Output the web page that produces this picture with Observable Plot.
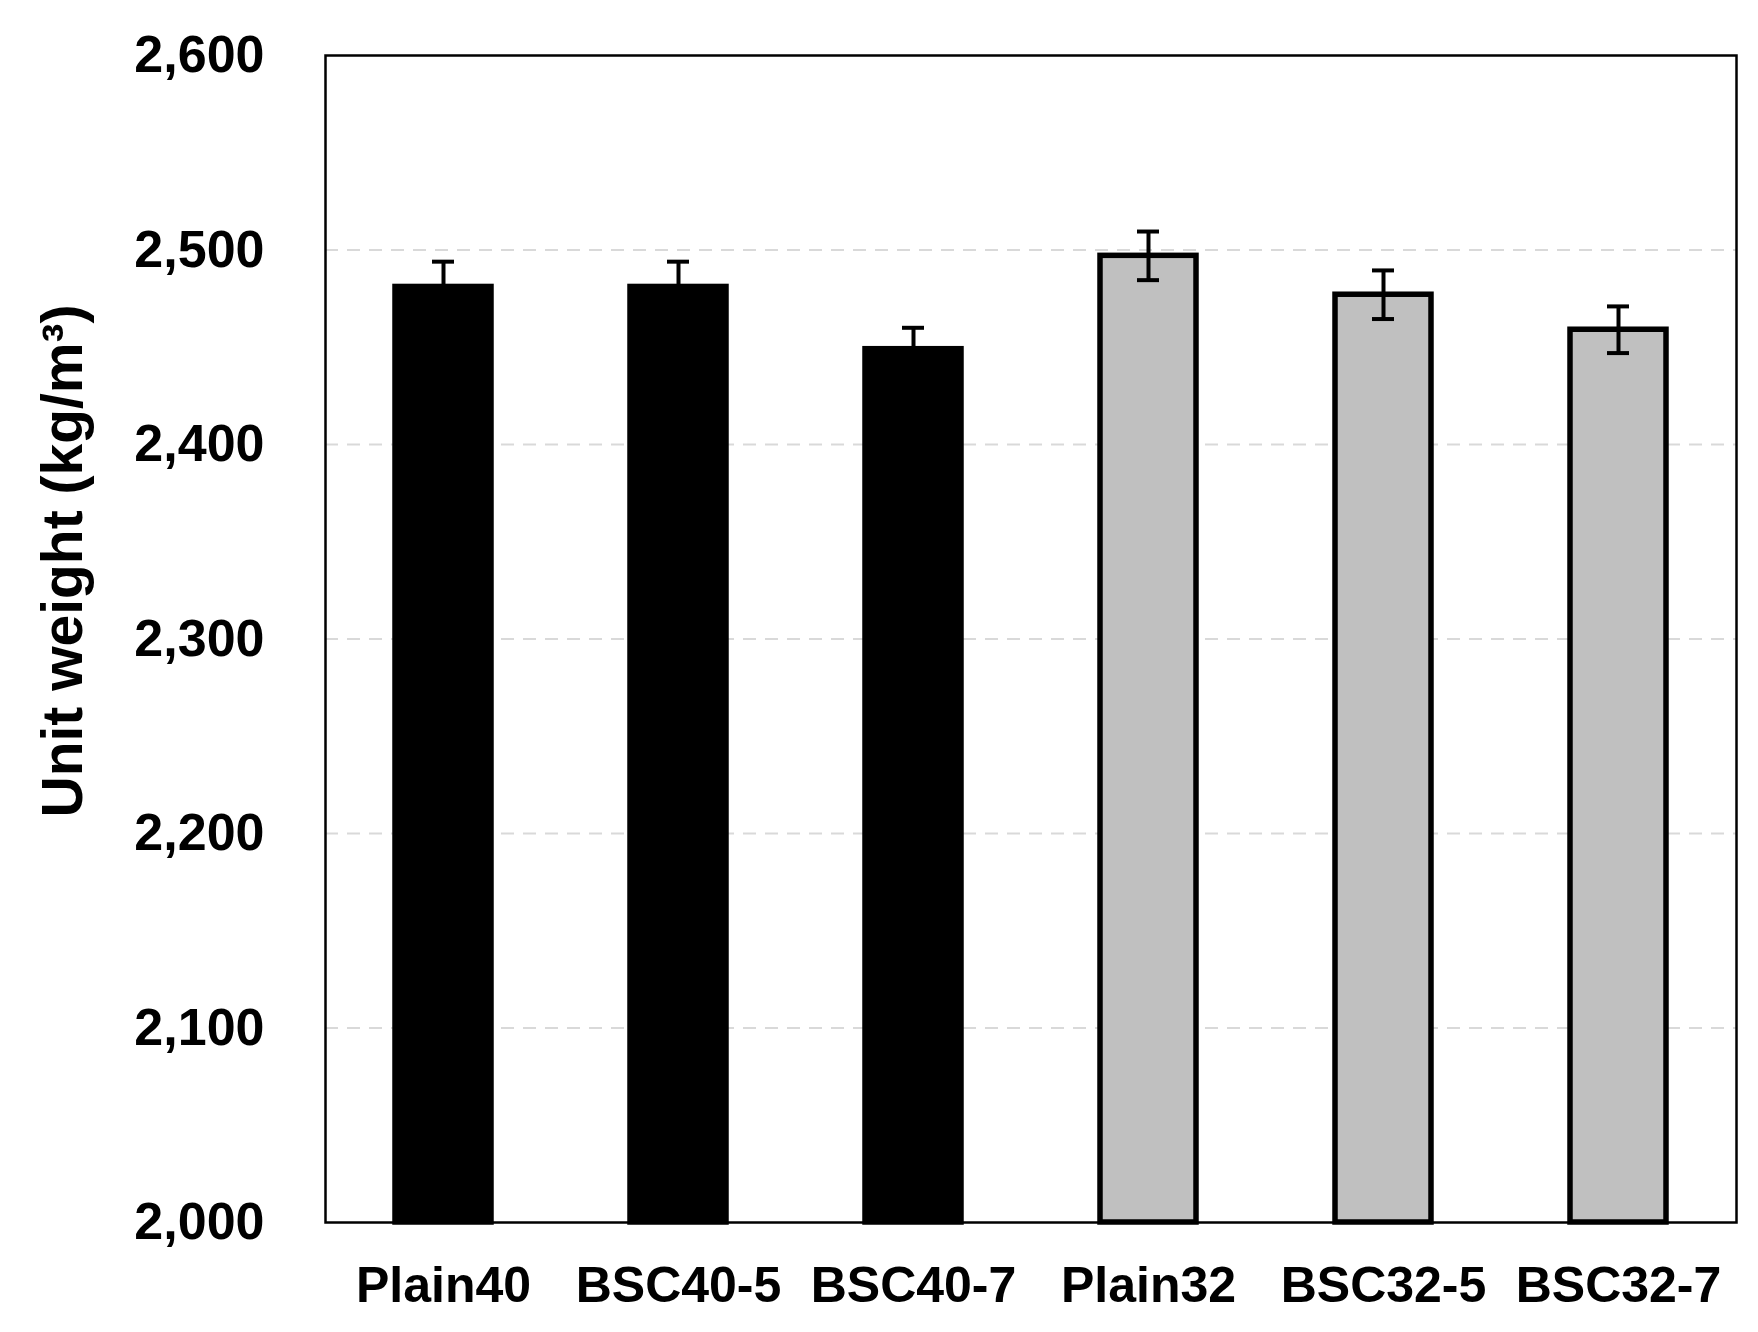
<!DOCTYPE html>
<html>
<head>
<meta charset="utf-8">
<script src="https://cdn.jsdelivr.net/npm/d3@7"></script>
<script src="https://cdn.jsdelivr.net/npm/@observablehq/plot@0.6"></script>
<style>
  html, body { margin: 0; padding: 0; background: #fff; }
</style>
</head>
<body>
<div id="chart"></div>
<script>
const categories = ["Plain40", "BSC40-5", "BSC40-7", "Plain32", "BSC32-5", "BSC32-7"];
const groups = ["40", "40", "40", "32", "32", "32"];
const values = [2481, 2481, 2449, 2497, 2477, 2459];
const errors = [13, 13, 11, 12.5, 12.5, 12];
const yTicks = [2000, 2100, 2200, 2300, 2400, 2500, 2600];
const gridTicks = [2100, 2200, 2300, 2400, 2500];
const yLabel = "Unit weight (kg/m³)";

const data = categories.map((c, i) => ({name: c, group: groups[i], v: values[i], e: errors[i]}));
const font = "'Liberation Sans', Arial, Helvetica, sans-serif";

const chart = Plot.plot({
  width: 1758,
  height: 1332,
  marginLeft: 325,
  marginRight: 22,
  marginTop: 55,
  marginBottom: 110,
  style: {fontFamily: font, fontWeight: "bold", background: "#fff", color: "#000"},
  x: {type: "band", domain: categories, paddingInner: 0.59, paddingOuter: 0.29, axis: null},
  y: {domain: [2000, 2600], axis: null},
  color: {domain: ["40", "32"], range: ["#000000", "#c0c0c0"]},
  marks: [
    Plot.gridY(gridTicks, {stroke: "#d9d9d9", strokeOpacity: 1, strokeWidth: 2, strokeDasharray: "13,9"}),
    Plot.barY(data, {x: "name", y1: 2000, y2: "v", fill: "group", stroke: "#000", strokeWidth: 5.5}),
    Plot.ruleX(data, {x: "name", y1: d => d.v - d.e, y2: d => d.v + d.e, stroke: "#000", strokeWidth: 4}),
    Plot.tickY(data, {x: "name", y: d => d.v + d.e, stroke: "#000", strokeWidth: 4, insetLeft: 37, insetRight: 37}),
    Plot.tickY(data, {x: "name", y: d => d.v - d.e, stroke: "#000", strokeWidth: 4, insetLeft: 37, insetRight: 37}),
    Plot.frame({stroke: "#000", strokeWidth: 2.5}),
    Plot.axisY({ticks: yTicks, tickSize: 0, tickPadding: 61, tickFormat: d3.format(","), fontSize: 52, fontWeight: "bold", label: null}),
    Plot.axisX({tickSize: 0, tickPadding: 44, fontSize: 50, fontWeight: "bold", label: null}),
    Plot.text([yLabel], {text: d => d, frameAnchor: "left", dx: -262, dy: -78, rotate: -90, fontSize: 57, fontWeight: "bold", textAnchor: "middle", lineAnchor: "middle", fill: "#000"})
  ]
});
document.getElementById("chart").appendChild(chart);
</script>
</body>
</html>
